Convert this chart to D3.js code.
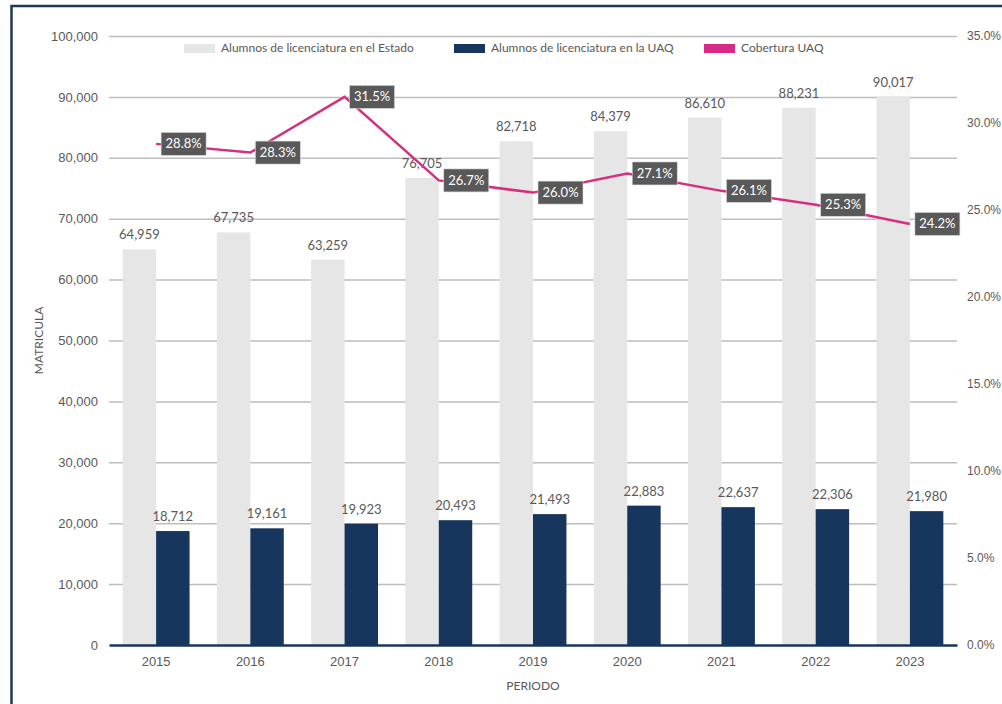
<!DOCTYPE html>
<html>
<head>
<meta charset="utf-8">
<script src="https://cdn.jsdelivr.net/npm/d3@7"></script>
<style>
  body { margin: 0; background: #fff; }
  svg { display: block; font-family: Lato, "Open Sans", sans-serif; }
</style>
</head>
<body>
<svg id="chart"></svg>
<script>
// datos
const periodos = ['2015', '2016', '2017', '2018', '2019', '2020', '2021', '2022', '2023'];
const alumnosEstado = [64959, 67735, 63259, 76705, 82718, 84379, 86610, 88231, 90017];
const alumnosUAQ = [18712, 19161, 19923, 20493, 21493, 22883, 22637, 22306, 21980];
const cobertura = [28.8, 28.3, 31.5, 26.7, 26.0, 27.1, 26.1, 25.3, 24.2];
const ticksIzq = [0, 10000, 20000, 30000, 40000, 50000, 60000, 70000, 80000, 90000, 100000];
const ticksDer = [0, 5, 10, 15, 20, 25, 30, 35];
const leyenda = ['Alumnos de licenciatura en el Estado', 'Alumnos de licenciatura en la UAQ', 'Cobertura UAQ'];

class ComboChart {
    constructor (config) {
        this.config = {
            parent: config.parent,
            width: config.width || 1002,
            height: config.height || 704,
            margin: config.margin || {top:36, right:45, bottom:59, left:109},
            xlabel: config.xlabel || '',
            ylabel: config.ylabel || ''
        };
        this.init();
    }

    init() {
        let self = this;

        self.svg = d3.select(self.config.parent)
            .attr('width', self.config.width)
            .attr('height', self.config.height);

        // marco
        self.svg.append('rect')
            .attr('x', 11.5).attr('y', 6)
            .attr('width', 1000).attr('height', 720)
            .attr('fill', 'none')
            .attr('stroke', '#1f3857')
            .attr('stroke-width', 2.5);

        self.chart = self.svg.append('g')
            .attr('transform', `translate(${self.config.margin.left}, ${self.config.margin.top})`);

        self.inner_width = self.config.width - self.config.margin.left - self.config.margin.right;
        self.inner_height = self.config.height - self.config.margin.top - self.config.margin.bottom;

        self.xscale = d3.scaleBand()
            .domain(periodos)
            .range([0, self.inner_width])
            .paddingInner(0.29)
            .paddingOuter(0.145);

        self.xsub = d3.scaleBand()
            .domain(['estado', 'uaq'])
            .range([0, self.xscale.bandwidth()]);

        self.yscale = d3.scaleLinear()
            .domain([0, 100000])
            .range([self.inner_height, 0]);

        self.yscale2 = d3.scaleLinear()
            .domain([0, 35])
            .range([self.inner_height, 0]);

        self.render();
    }

    render() {
        let self = this;
        const gris = '#595959';

        // lineas de cuadricula
        const grid = self.chart.append('g')
            .call(d3.axisLeft(self.yscale)
                .tickValues(ticksIzq.slice(1))
                .tickSize(-self.inner_width)
                .tickFormat(''));
        grid.select('.domain').remove();
        grid.selectAll('line').attr('stroke', '#bdbdbd').attr('stroke-width', 1.5);

        // eje izquierdo
        const yaxis = self.chart.append('g')
            .call(d3.axisLeft(self.yscale)
                .tickValues(ticksIzq)
                .tickSize(0)
                .tickPadding(11)
                .tickFormat(d3.format(',')));
        yaxis.select('.domain').remove();
        yaxis.selectAll('text').attr('fill', gris).style('font-size', '13px');

        // eje derecho
        const yaxis2 = self.chart.append('g')
            .attr('transform', `translate(${self.inner_width}, 0)`)
            .call(d3.axisRight(self.yscale2)
                .tickValues(ticksDer)
                .tickSize(0)
                .tickPadding(10)
                .tickFormat(d => d.toFixed(1) + '%'));
        yaxis2.select('.domain').remove();
        yaxis2.selectAll('text').attr('fill', gris).style('font-size', '12px');

        // barras
        const grupos = self.chart.selectAll('.grupo')
            .data(periodos)
            .join('g')
            .attr('transform', d => `translate(${self.xscale(d)}, 0)`);

        grupos.append('rect')
            .attr('x', self.xsub('estado'))
            .attr('y', (d, i) => self.yscale(alumnosEstado[i]))
            .attr('width', self.xsub.bandwidth())
            .attr('height', (d, i) => self.inner_height - self.yscale(alumnosEstado[i]))
            .attr('fill', '#e7e6e6');

        grupos.append('rect')
            .attr('x', self.xsub('uaq'))
            .attr('y', (d, i) => self.yscale(alumnosUAQ[i]))
            .attr('width', self.xsub.bandwidth())
            .attr('height', (d, i) => self.inner_height - self.yscale(alumnosUAQ[i]))
            .attr('fill', '#17365d');

        grupos.append('text')
            .attr('x', self.xsub('estado') + self.xsub.bandwidth() / 2)
            .attr('y', (d, i) => self.yscale(alumnosEstado[i]) - 10)
            .attr('text-anchor', 'middle')
            .attr('fill', gris)
            .style('font-size', '13px')
            .text((d, i) => d3.format(',')(alumnosEstado[i]));

        grupos.append('text')
            .attr('x', self.xsub('uaq') + self.xsub.bandwidth() / 2)
            .attr('y', (d, i) => self.yscale(alumnosUAQ[i]) - 10)
            .attr('text-anchor', 'middle')
            .attr('fill', gris)
            .style('font-size', '13px')
            .text((d, i) => d3.format(',')(alumnosUAQ[i]));

        // eje x (linea base)
        const xaxis = self.chart.append('g')
            .attr('transform', `translate(0, ${self.inner_height})`)
            .call(d3.axisBottom(self.xscale).tickSize(0).tickPadding(12));
        xaxis.select('.domain').attr('stroke', '#17365d').attr('stroke-width', 2.5);
        xaxis.selectAll('text').attr('fill', gris).style('font-size', '13px');

        // linea de cobertura
        const cx = d => self.xscale(d) + self.xscale.bandwidth() / 2;
        self.line = d3.line()
            .x((d, i) => cx(periodos[i]))
            .y(d => self.yscale2(d));

        self.chart.append('path')
            .datum(cobertura)
            .attr('d', self.line)
            .attr('fill', 'none')
            .attr('stroke', '#d5307f')
            .attr('stroke-width', 2.5);

        const etiquetas = self.chart.selectAll('.etq')
            .data(cobertura)
            .join('g')
            .attr('transform', (d, i) => `translate(${cx(periodos[i]) + 5}, ${self.yscale2(d)})`);

        etiquetas.append('rect')
            .attr('x', 0).attr('y', -11.5)
            .attr('width', 45).attr('height', 23)
            .attr('fill', '#595959')
            .attr('stroke', '#d9d9d9')
            .attr('stroke-width', 0.6);

        etiquetas.append('text')
            .attr('x', 22.5).attr('y', 0)
            .attr('dy', '0.35em')
            .attr('text-anchor', 'middle')
            .attr('fill', '#fff')
            .style('font-size', '13px')
            .text(d => d.toFixed(1) + '%');

        // titulos de ejes
        self.svg.append('text')
            .attr('x', self.config.margin.left + self.inner_width / 2)
            .attr('y', 690)
            .attr('text-anchor', 'middle')
            .attr('fill', gris)
            .style('font-size', '12px')
            .text(self.config.xlabel);

        self.svg.append('text')
            .attr('transform', `translate(43, ${self.config.margin.top + self.inner_height / 2}) rotate(-90)`)
            .attr('text-anchor', 'middle')
            .attr('fill', gris)
            .style('font-size', '12px')
            .text(self.config.ylabel);

        // leyenda
        const colores = ['#e7e6e6', '#17365d', '#d62a84'];
        const posX = [184, 454, 704];
        const ley = self.svg.selectAll('.ley')
            .data(leyenda)
            .join('g')
            .attr('transform', (d, i) => `translate(${posX[i]}, 48)`);
        ley.append('rect')
            .attr('x', 0).attr('y', -4)
            .attr('width', 31).attr('height', 9)
            .attr('fill', (d, i) => colores[i]);
        ley.append('text')
            .attr('x', 37).attr('y', 0)
            .attr('dy', '0.35em')
            .attr('fill', gris)
            .style('font-size', '12px')
            .text(d => d);
    }
}

let chart = new ComboChart({
    parent: '#chart',
    width: 1002,
    height: 704,
    xlabel: 'PERIODO',
    ylabel: 'MATRICULA'
});
</script>
</body>
</html>
